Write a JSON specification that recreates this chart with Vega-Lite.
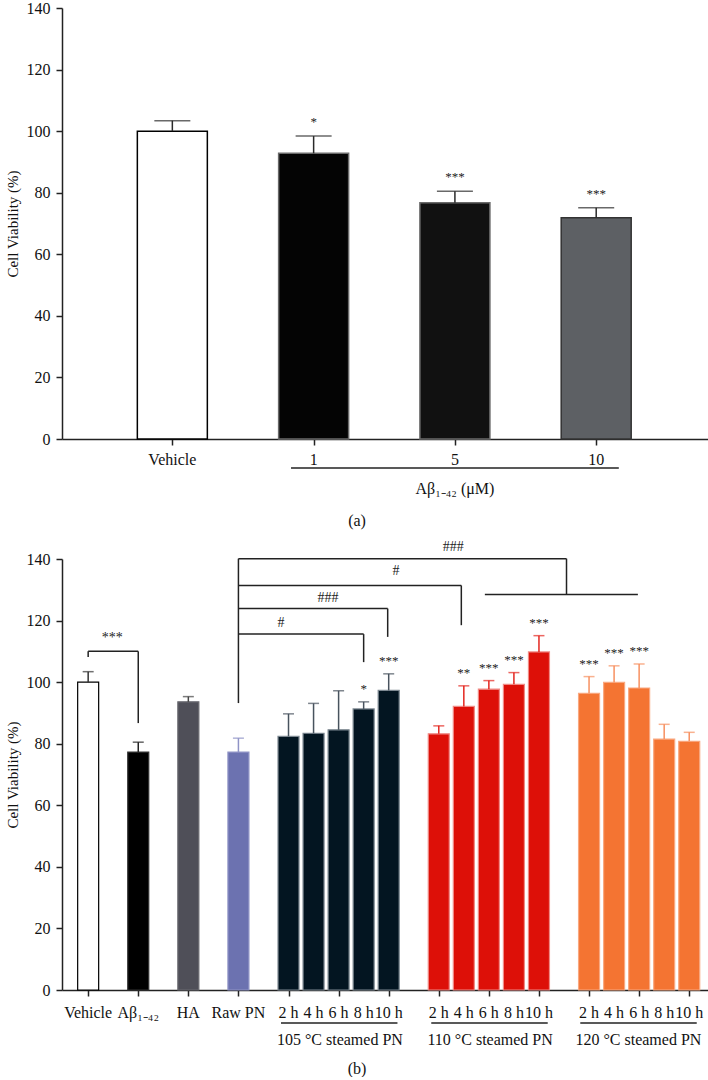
{
  "$schema": "https://vega.github.io/schema/vega-lite/v6.json",
  "padding": {"left": 5, "top": 0, "right": 0, "bottom": 0},
  "spacing": 11,
  "resolve": {"scale": {"fill": "independent", "stroke": "independent", "color": "independent"}},
  "config": {
    "font": "Liberation Serif",
    "view": {"stroke": null},
    "axis": {
      "labelFont": "Liberation Serif",
      "titleFont": "Liberation Serif",
      "labelColor": "#111111",
      "titleColor": "#111111",
      "domainColor": "#222222",
      "tickColor": "#222222",
      "domainWidth": 1.5,
      "tickWidth": 1.5,
      "tickSize": 6,
      "grid": false
    },
    "axisY": {"labelFontSize": 16, "labelPadding": 6, "titleFontSize": 15, "titleFontWeight": "normal", "titlePadding": 6},
    "title": {"font": "Liberation Serif", "fontSize": 16, "fontWeight": "normal", "color": "#111111"}
  },
  "datasets": {
    "a_bars": [
      {"cat": "Vehicle", "pos": 0, "mean": 100.0, "upper": 103.4, "sig": ""},
      {"cat": "1", "pos": 1, "mean": 92.8, "upper": 98.4, "sig": "*"},
      {"cat": "5", "pos": 2, "mean": 76.7, "upper": 80.5, "sig": "***"},
      {"cat": "10", "pos": 3, "mean": 71.9, "upper": 75.1, "sig": "***"}
    ],
    "a_groups": [
      {"name": "Aβ₁₋₄₂ (μM)", "from": 0.84, "to": 3.16, "mid": 2.0}
    ],
    "b_bars": [
      {"label": "Vehicle", "group": "Vehicle", "slot": 0, "mean": 100.0, "upper": 103.4, "sig": ""},
      {"label": "Aβ₁₋₄₂", "group": "Abeta", "slot": 2, "mean": 77.3, "upper": 80.5, "sig": ""},
      {"label": "HA", "group": "HA", "slot": 4, "mean": 93.6, "upper": 95.3, "sig": ""},
      {"label": "Raw PN", "group": "Raw PN", "slot": 6, "mean": 77.3, "upper": 81.8, "sig": ""},
      {"label": "2 h", "group": "105", "slot": 8, "mean": 82.4, "upper": 89.7, "sig": ""},
      {"label": "4 h", "group": "105", "slot": 9, "mean": 83.4, "upper": 93.1, "sig": ""},
      {"label": "6 h", "group": "105", "slot": 10, "mean": 84.5, "upper": 97.2, "sig": ""},
      {"label": "8 h", "group": "105", "slot": 11, "mean": 91.3, "upper": 93.6, "sig": "*"},
      {"label": "10 h", "group": "105", "slot": 12, "mean": 97.3, "upper": 102.7, "sig": "***"},
      {"label": "2 h", "group": "110", "slot": 14, "mean": 83.2, "upper": 85.8, "sig": ""},
      {"label": "4 h", "group": "110", "slot": 15, "mean": 92.1, "upper": 98.8, "sig": "**"},
      {"label": "6 h", "group": "110", "slot": 16, "mean": 97.7, "upper": 100.5, "sig": "***"},
      {"label": "8 h", "group": "110", "slot": 17, "mean": 99.3, "upper": 103.1, "sig": "***"},
      {"label": "10 h", "group": "110", "slot": 18, "mean": 109.8, "upper": 115.1, "sig": "***"},
      {"label": "2 h", "group": "120", "slot": 20, "mean": 96.4, "upper": 101.8, "sig": "***"},
      {"label": "4 h", "group": "120", "slot": 21, "mean": 99.9, "upper": 105.3, "sig": "***"},
      {"label": "6 h", "group": "120", "slot": 22, "mean": 98.1, "upper": 105.9, "sig": "***"},
      {"label": "8 h", "group": "120", "slot": 23, "mean": 81.5, "upper": 86.3, "sig": ""},
      {"label": "10 h", "group": "120", "slot": 24, "mean": 80.8, "upper": 83.7, "sig": ""}
    ],
    "b_groups": [
      {"name": "105 °C steamed PN", "from": 7.7, "to": 12.35, "mid": 10.05},
      {"name": "110 °C steamed PN", "from": 13.7, "to": 18.35, "mid": 16.05},
      {"name": "120 °C steamed PN", "from": 19.65, "to": 24.3, "mid": 21.97}
    ],
    "b_brackets": [
      {"x1": 0, "x2": 2, "y1": 110.0, "y2": 110.0},
      {"x1": 0, "x2": 0, "y1": 108.2, "y2": 110.0},
      {"x1": 2, "x2": 2, "y1": 86.7, "y2": 110.0},
      {"x1": 6, "x2": 6, "y1": 93.2, "y2": 140.1},
      {"x1": 6, "x2": 19.1, "y1": 140.1, "y2": 140.1},
      {"x1": 19.1, "x2": 19.1, "y1": 128.5, "y2": 140.1},
      {"x1": 15.84, "x2": 21.95, "y1": 128.5, "y2": 128.5},
      {"x1": 6, "x2": 14.9, "y1": 131.4, "y2": 131.4},
      {"x1": 14.9, "x2": 14.9, "y1": 118.5, "y2": 131.4},
      {"x1": 6, "x2": 11.96, "y1": 123.9, "y2": 123.9},
      {"x1": 11.96, "x2": 11.96, "y1": 114.7, "y2": 123.9},
      {"x1": 6, "x2": 11.0, "y1": 115.6, "y2": 115.6},
      {"x1": 11.0, "x2": 11.0, "y1": 106.5, "y2": 115.6}
    ],
    "b_marks": [
      {"text": "***", "x": 0.96, "y": 114.3},
      {"text": "###", "x": 14.58, "y": 143.8},
      {"text": "#", "x": 12.29, "y": 136.0},
      {"text": "###", "x": 9.58, "y": 127.3},
      {"text": "#", "x": 7.7, "y": 119.2}
    ]
  },
  "vconcat": [
    {
      "width": 647,
      "height": 431,
      "title": {"text": "(a)", "orient": "bottom", "frame": "bounds", "anchor": "middle", "offset": 16},
      "layer": [
        {
          "data": {"name": "a_bars"},
          "mark": {"type": "bar", "width": 70, "strokeWidth": 1.5},
          "encoding": {
            "x": {"field": "pos", "type": "quantitative", "scale": {"domain": [-0.7456, 3.763], "nice": false, "zero": false},
                  "axis": {"values": [0, 1, 2, 3], "labels": false, "title": null}},
            "y": {"field": "mean", "type": "quantitative", "scale": {"domain": [0, 140], "nice": false},
                  "axis": {"values": [0, 20, 40, 60, 80, 100, 120, 140], "title": "Cell Viability (%)"}},
            "fill": {"field": "cat", "type": "nominal", "legend": null,
                     "scale": {"domain": ["Vehicle", "1", "5", "10"], "range": ["#ffffff", "#040404", "#111111", "#5d6064"]}},
            "stroke": {"field": "cat", "type": "nominal", "legend": null,
                       "scale": {"domain": ["Vehicle", "1", "5", "10"], "range": ["#000000", "#6a6a6a", "#6a6a6a", "#333333"]}}
          }
        },
        {
          "data": {"name": "a_bars"},
          "mark": {"type": "rule", "strokeWidth": 1.5, "color": "#2a2a2a"},
          "encoding": {
            "x": {"field": "pos", "type": "quantitative"},
            "y": {"field": "mean", "type": "quantitative"},
            "y2": {"field": "upper"}
          }
        },
        {
          "data": {"name": "a_bars"},
          "mark": {"type": "tick", "orient": "horizontal", "size": 36, "thickness": 1.5, "color": "#2a2a2a"},
          "encoding": {
            "x": {"field": "pos", "type": "quantitative"},
            "y": {"field": "upper", "type": "quantitative"}
          }
        },
        {
          "data": {"name": "a_bars"},
          "mark": {"type": "text", "baseline": "alphabetic", "dy": -10, "fontSize": 13, "fill": "#222222"},
          "encoding": {
            "x": {"field": "pos", "type": "quantitative"},
            "y": {"field": "upper", "type": "quantitative"},
            "text": {"field": "sig"}
          }
        },
        {
          "data": {"name": "a_bars"},
          "mark": {"type": "text", "baseline": "middle", "fontSize": 16, "color": "#111111"},
          "encoding": {
            "x": {"field": "pos", "type": "quantitative"},
            "y": {"value": 452},
            "text": {"field": "cat"}
          }
        },
        {
          "data": {"name": "a_groups"},
          "mark": {"type": "rule", "strokeWidth": 1.5, "color": "#222222"},
          "encoding": {
            "x": {"field": "from", "type": "quantitative"},
            "x2": {"field": "to"},
            "y": {"value": 460}
          }
        },
        {
          "data": {"name": "a_groups"},
          "mark": {"type": "text", "baseline": "middle", "fontSize": 16, "color": "#111111"},
          "encoding": {
            "x": {"field": "mid", "type": "quantitative"},
            "y": {"value": 481},
            "text": {"field": "name"}
          }
        }
      ]
    },
    {
      "width": 647,
      "height": 431,
      "title": {"text": "(b)", "orient": "bottom", "frame": "bounds", "anchor": "middle", "offset": 13},
      "layer": [
        {
          "data": {"name": "b_bars"},
          "mark": {"type": "bar", "width": 21, "strokeWidth": 1.2},
          "encoding": {
            "x": {"field": "slot", "type": "quantitative", "scale": {"domain": [-0.845, 24.59], "nice": false, "zero": false},
                  "axis": {"values": [0, 1, 2, 3, 4, 5, 6, 7, 8, 9, 10, 11, 12, 13, 14, 15, 16, 17, 18, 19, 20, 21, 22, 23, 24], "labels": false, "title": null}},
            "y": {"field": "mean", "type": "quantitative", "scale": {"domain": [0, 140], "nice": false},
                  "axis": {"values": [0, 20, 40, 60, 80, 100, 120, 140], "title": "Cell Viability (%)"}},
            "fill": {"field": "group", "type": "nominal", "legend": null,
                     "scale": {"domain": ["Vehicle", "Abeta", "HA", "Raw PN", "105", "110", "120"],
                               "range": ["#ffffff", "#000000", "#4f4f58", "#6c72b0", "#031521", "#dd1008", "#f47432"]}},
            "stroke": {"field": "group", "type": "nominal", "legend": null,
                       "scale": {"domain": ["Vehicle", "Abeta", "HA", "Raw PN", "105", "110", "120"],
                                 "range": ["#000000", "#333333", "#6a6a70", "#9094c6", "#7d8891", "#f08a85", "#f9a880"]}}
          }
        },
        {
          "data": {"name": "b_bars"},
          "mark": {"type": "rule", "strokeWidth": 1.5},
          "encoding": {
            "x": {"field": "slot", "type": "quantitative"},
            "y": {"field": "mean", "type": "quantitative"},
            "y2": {"field": "upper"},
            "color": {"field": "group", "type": "nominal", "legend": null,
                      "scale": {"domain": ["Vehicle", "Abeta", "HA", "Raw PN", "105", "110", "120"],
                                "range": ["#333333", "#222222", "#444444", "#8f93c6", "#48535e", "#e4261f", "#f79060"]}}
          }
        },
        {
          "data": {"name": "b_bars"},
          "mark": {"type": "tick", "orient": "horizontal", "size": 11, "thickness": 1.5},
          "encoding": {
            "x": {"field": "slot", "type": "quantitative"},
            "y": {"field": "upper", "type": "quantitative"},
            "color": {"field": "group", "type": "nominal", "legend": null}
          }
        },
        {
          "data": {"name": "b_bars"},
          "mark": {"type": "text", "baseline": "alphabetic", "dy": -9, "fontSize": 13, "fill": "#222222"},
          "encoding": {
            "x": {"field": "slot", "type": "quantitative"},
            "y": {"field": "upper", "type": "quantitative"},
            "text": {"field": "sig"}
          }
        },
        {
          "data": {"name": "b_bars"},
          "mark": {"type": "text", "baseline": "middle", "fontSize": 16, "color": "#111111"},
          "encoding": {
            "x": {"field": "slot", "type": "quantitative"},
            "y": {"value": 454},
            "text": {"field": "label"}
          }
        },
        {
          "data": {"name": "b_groups"},
          "mark": {"type": "rule", "strokeWidth": 1.5, "color": "#222222"},
          "encoding": {
            "x": {"field": "from", "type": "quantitative"},
            "x2": {"field": "to"},
            "y": {"value": 464}
          }
        },
        {
          "data": {"name": "b_groups"},
          "mark": {"type": "text", "baseline": "middle", "fontSize": 16, "color": "#111111"},
          "encoding": {
            "x": {"field": "mid", "type": "quantitative"},
            "y": {"value": 481},
            "text": {"field": "name"}
          }
        },
        {
          "data": {"name": "b_brackets"},
          "mark": {"type": "rule", "strokeWidth": 1.5, "color": "#222222"},
          "encoding": {
            "x": {"field": "x1", "type": "quantitative"},
            "x2": {"field": "x2"},
            "y": {"field": "y1", "type": "quantitative"},
            "y2": {"field": "y2"}
          }
        },
        {
          "data": {"name": "b_marks"},
          "mark": {"type": "text", "baseline": "middle", "fontSize": 14, "color": "#222222"},
          "encoding": {
            "x": {"field": "x", "type": "quantitative"},
            "y": {"field": "y", "type": "quantitative"},
            "text": {"field": "text"}
          }
        }
      ]
    }
  ]
}
